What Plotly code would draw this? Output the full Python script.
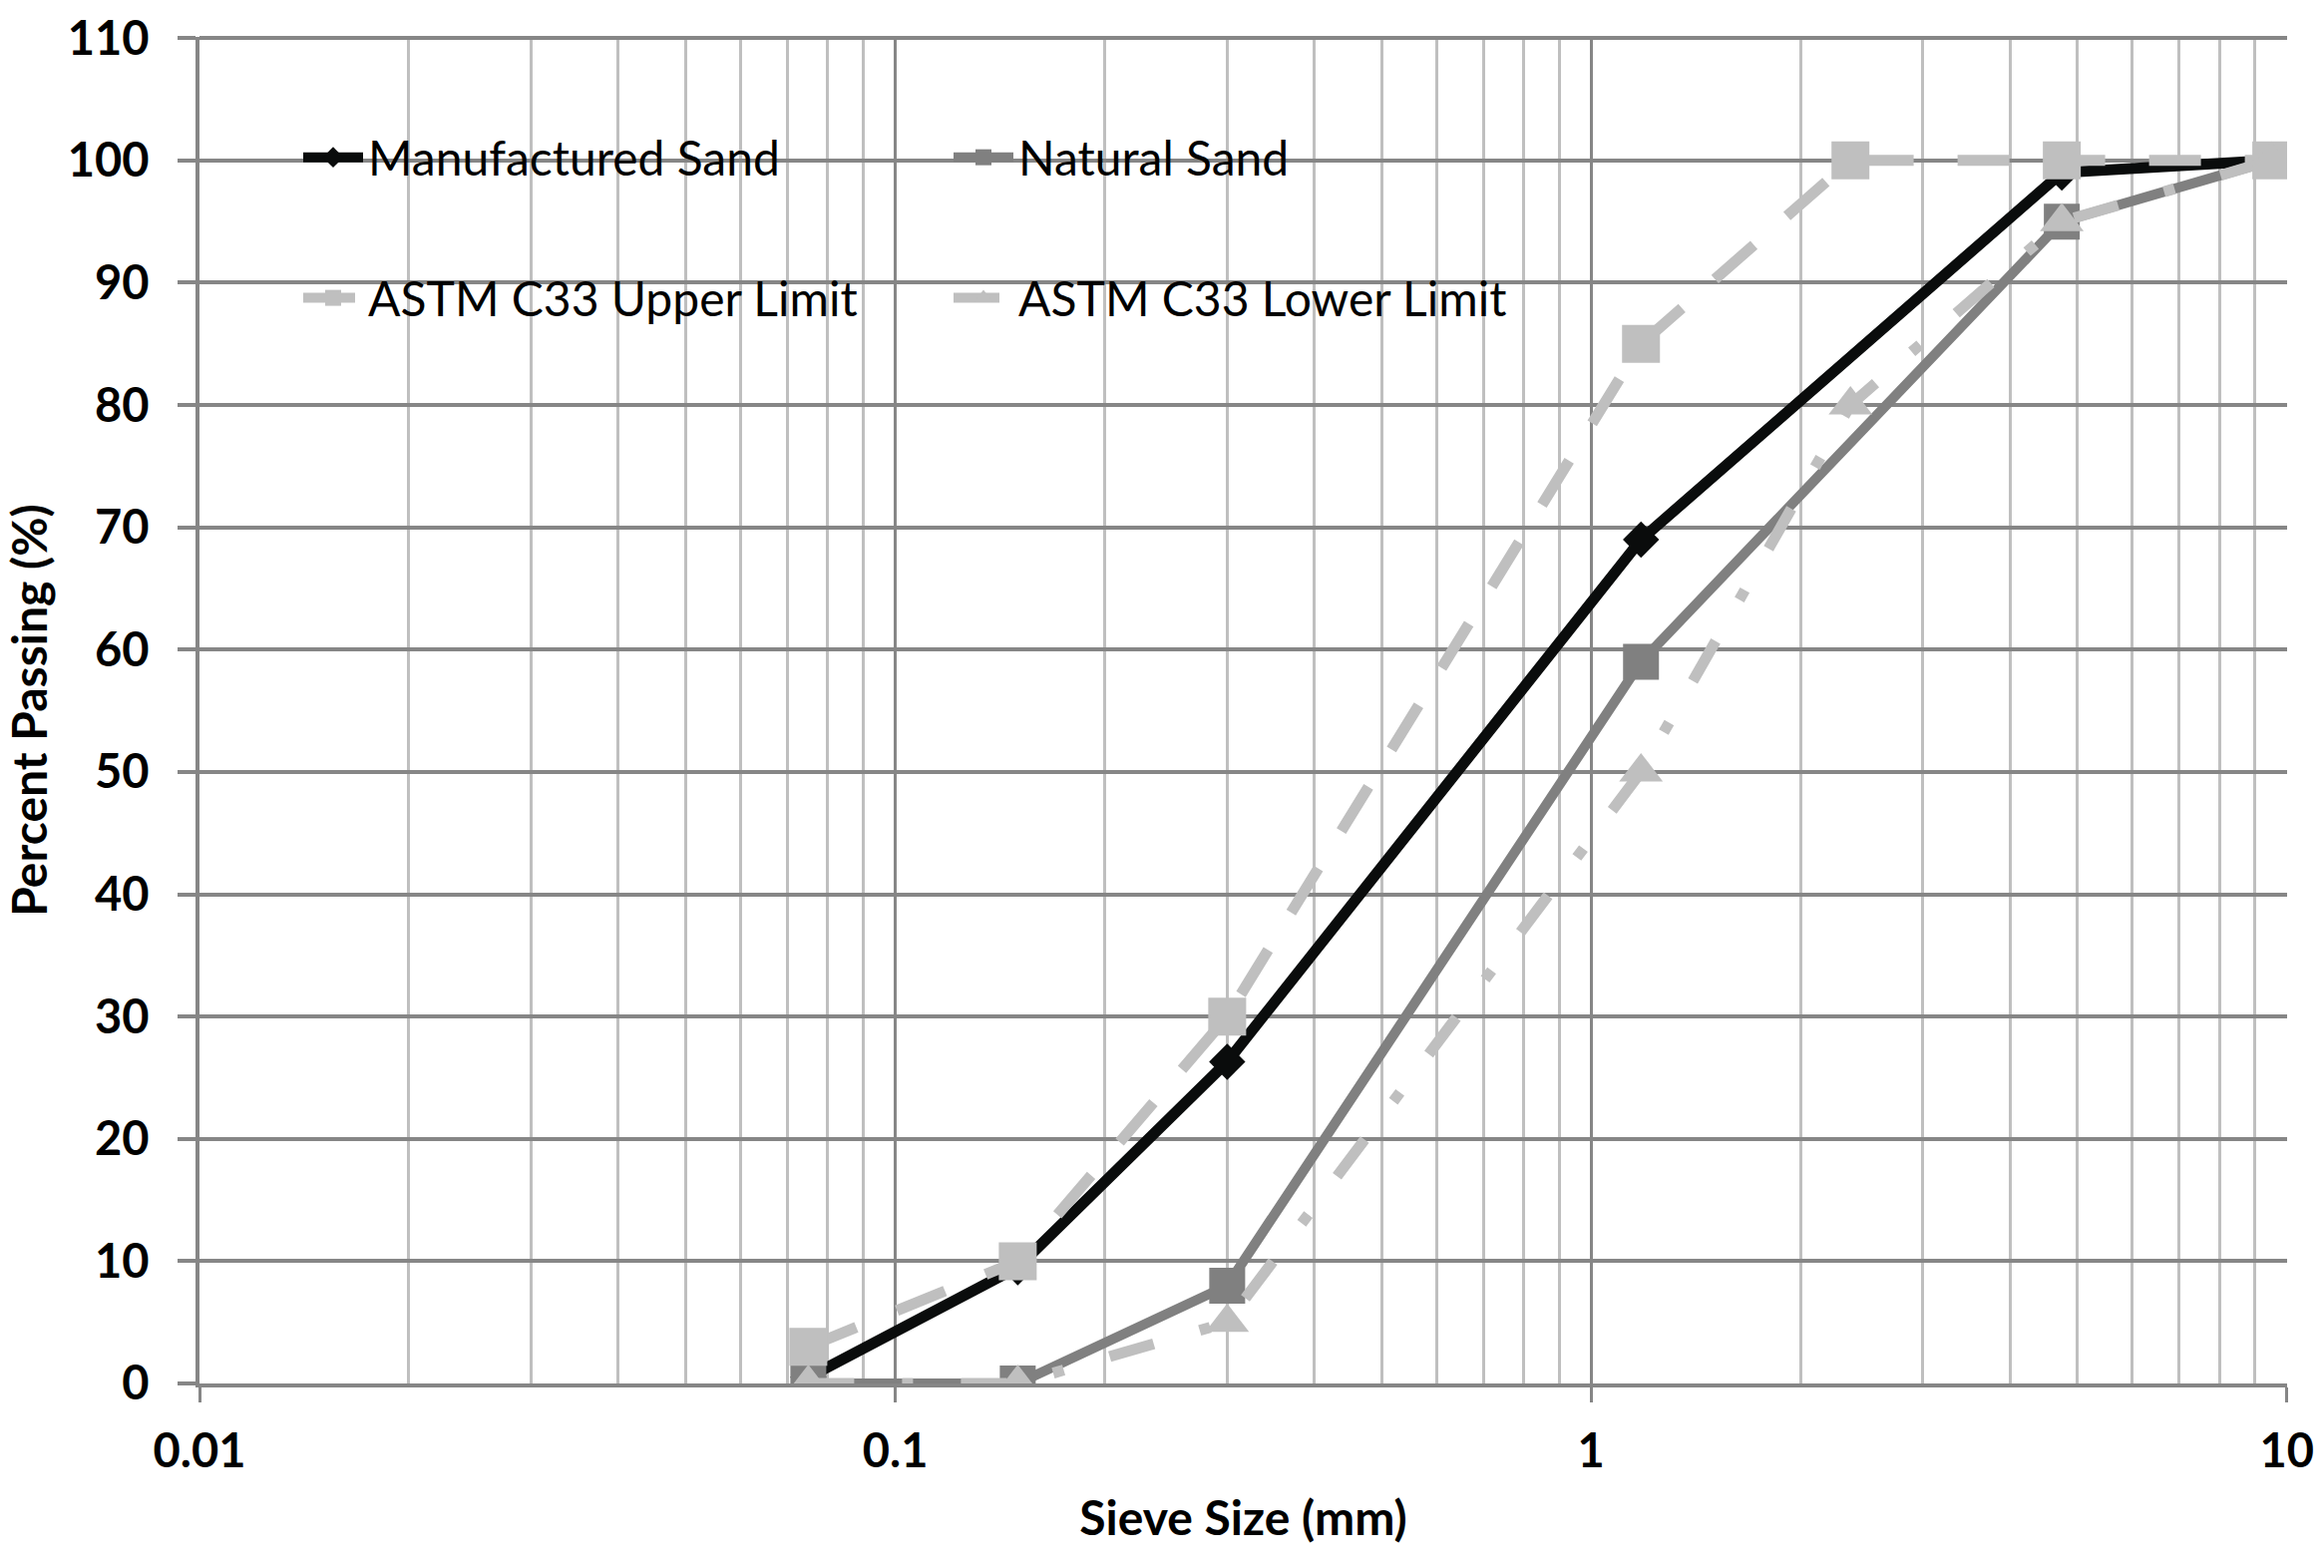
import plotly.graph_objects as go

# sieve sizes (mm)
sieve_sand = [0.075, 0.15, 0.3, 1.18, 4.75, 9.5]
sieve_astm = [0.075, 0.15, 0.3, 1.18, 2.36, 4.75, 9.5]

# percent passing
manufactured = [0.5, 9.5, 26.3, 69, 99, 100]
natural = [0, 0, 8, 59, 95, 100]
astm_upper = [3, 10, 30, 85, 100, 100, 100]
astm_lower = [0, 0, 5, 50, 80, 95, 100]

x_ticks = [0.01, 0.1, 1, 10]
x_ticktext = ["0.01", "0.1", "1", "10"]

FONT = "Lato"
DARK = "#868686"
LIGHT = "#bfbfbf"

fig = go.Figure()

fig.add_trace(go.Scatter(
    x=sieve_sand, y=manufactured, name="Manufactured Sand",
    mode="lines+markers",
    line=dict(color="#0a0c0c", width=11),
    marker=dict(symbol="diamond", size=28, color="#0a0c0c"),
    legend="legend",
))
fig.add_trace(go.Scatter(
    x=sieve_sand, y=natural, name="Natural Sand",
    mode="lines+markers",
    line=dict(color="#808080", width=10),
    marker=dict(symbol="square", size=36, color="#808080"),
    legend="legend",
))
fig.add_trace(go.Scatter(
    x=sieve_astm, y=astm_upper, name="ASTM C33 Upper Limit",
    mode="lines+markers",
    line=dict(color=LIGHT, width=11, dash="52px,44px"),
    marker=dict(symbol="square", size=38, color=LIGHT),
    legend="legend2",
))
fig.add_trace(go.Scatter(
    x=sieve_astm, y=astm_lower, name="ASTM C33 Lower Limit",
    mode="lines+markers",
    line=dict(color=LIGHT, width=11, dash="46px,48px,11px,48px"),
    marker=dict(symbol="triangle-up", size=38, color=LIGHT),
    legend="legend2",
))

# white box behind the legend (hides the grid like the Excel legend)
fig.add_shape(type="rect", xref="paper", yref="paper",
              x0=0.0143, x1=0.636, y0=0.7556, y1=0.9644,
              fillcolor="white", line=dict(width=0), layer="between")

legend_common = dict(
    orientation="h",
    bgcolor="rgba(0,0,0,0)",
    font=dict(family=FONT, size=48, color="#000000"),
    entrywidth=577, entrywidthmode="pixels",
    itemwidth=60,
    xanchor="left", yanchor="middle",
    traceorder="normal",
)

fig.update_layout(
    width=2330, height=1572,
    margin=dict(l=200, r=37, t=37, b=185),
    paper_bgcolor="white", plot_bgcolor="white",
    font=dict(family=FONT, color="#000000"),
    showlegend=True,
    legend=dict(x=0.0473, y=0.9104, **legend_common),
    legend2=dict(x=0.0473, y=0.806, **legend_common),
    xaxis=dict(
        type="log", range=[-2, 1.0005], automargin=False,
        tickvals=x_ticks, ticktext=x_ticktext,
        tickfont=dict(family=FONT, size=47, color="#000000", weight="bold"),
        ticks="outside", ticklen=15, tickwidth=3, tickcolor=DARK,
        ticklabelstandoff=9, ticklabeloverflow="allow",
        showgrid=True, gridcolor=DARK, gridwidth=3,
        minor=dict(dtick="D1", showgrid=True, gridcolor=LIGHT, gridwidth=3, ticks=""),
        showline=True, linecolor=DARK, linewidth=4,
        zeroline=False,
        title=dict(text="Sieve Size (mm)", standoff=26,
                   font=dict(family=FONT, size=48, color="#000000", weight="bold")),
    ),
    yaxis=dict(
        range=[0, 110.1], dtick=10, automargin=False,
        tickfont=dict(family=FONT, size=47, color="#000000", weight="bold"),
        ticks="outside", ticklen=18, tickwidth=4, tickcolor=DARK,
        ticklabelstandoff=19, ticklabeloverflow="allow",
        showgrid=True, gridcolor=DARK, gridwidth=4,
        showline=True, linecolor=DARK, linewidth=4,
        zeroline=False,
        title=dict(text="Percent Passing (%)", standoff=18,
                   font=dict(family=FONT, size=48, color="#000000", weight="bold")),
    ),
)

fig.write_html("out.html", config={"displayModeBar": False},
               post_script="document.body.style.margin='0';")
